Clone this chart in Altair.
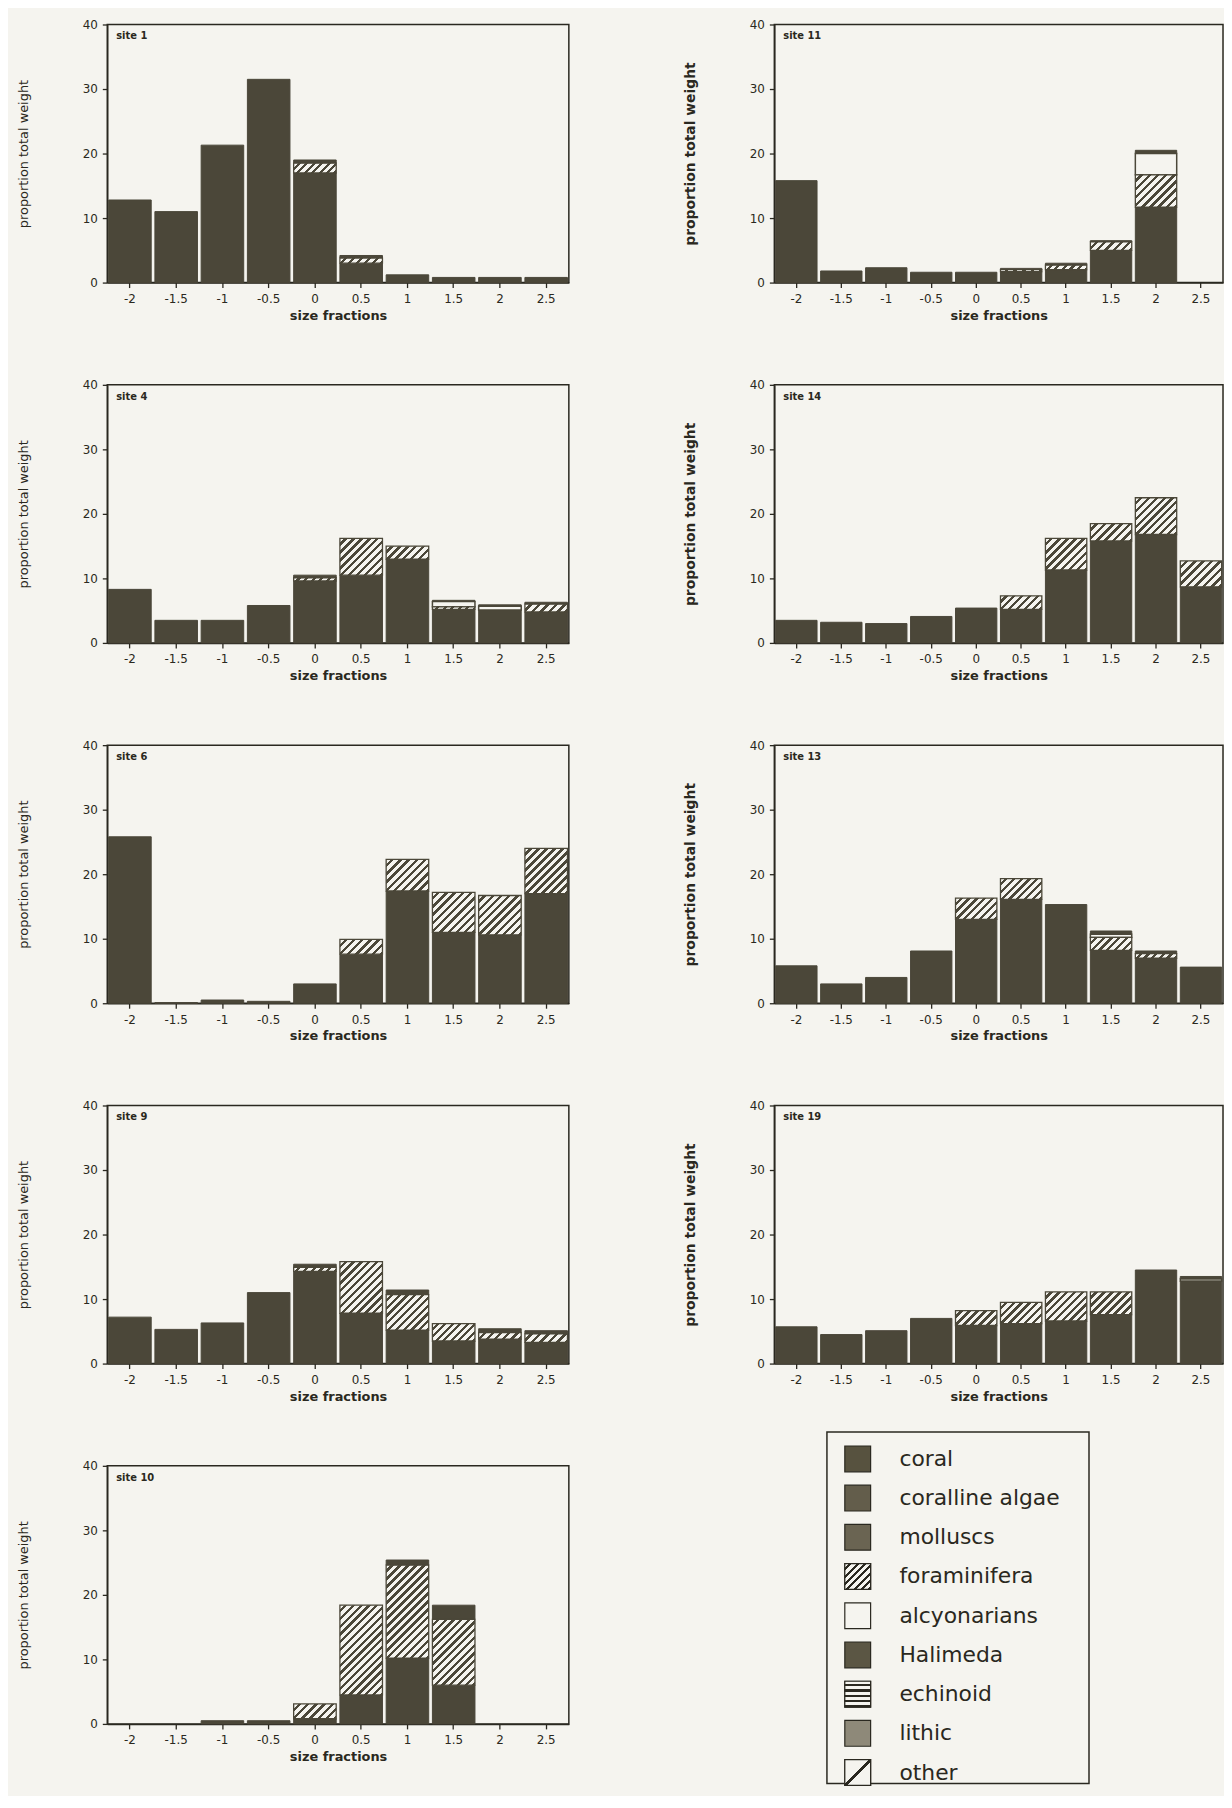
import altair as alt
import pandas as pd

# ---------------- data ----------------
SIZES = ["-2", "-1.5", "-1", "-0.5", "0", "0.5", "1", "1.5", "2", "2.5"]
COMPONENTS = ["coral", "foraminifera", "alcyonarians", "Halimeda"]

s1_coral = [12.8, 11.0, 21.3, 31.5, 17.0, 3.0, 1.2, 0.8, 0.8, 0.8]
s1_foram = [0, 0, 0, 0, 1.5, 0.8, 0, 0, 0, 0]
s1_alcy = [0, 0, 0, 0, 0, 0, 0, 0, 0, 0]
s1_top = [0, 0, 0, 0, 0.5, 0.4, 0, 0, 0, 0]

s11_coral = [15.8, 1.8, 2.3, 1.6, 1.6, 1.7, 2.0, 5.0, 11.7, 0]
s11_foram = [0, 0, 0, 0, 0, 0.3, 0.7, 1.3, 5.0, 0]
s11_alcy = [0, 0, 0, 0, 0, 0, 0, 0, 3.3, 0]
s11_top = [0, 0, 0, 0, 0, 0.2, 0.3, 0.2, 0.5, 0]

s4_coral = [8.3, 3.5, 3.5, 5.8, 9.6, 10.5, 13.0, 5.2, 5.1, 4.8]
s4_foram = [0, 0, 0, 0, 0.5, 5.7, 2.0, 0.4, 0, 1.2]
s4_alcy = [0, 0, 0, 0, 0, 0, 0, 0.8, 0.6, 0]
s4_top = [0, 0, 0, 0, 0.4, 0, 0, 0.2, 0.2, 0.3]

s14_coral = [3.5, 3.2, 3.0, 4.1, 5.4, 5.2, 11.3, 15.8, 16.8, 8.7]
s14_foram = [0, 0, 0, 0, 0, 2.1, 4.9, 2.7, 5.7, 4.0]
s14_alcy = [0, 0, 0, 0, 0, 0, 0, 0, 0, 0]
s14_top = [0, 0, 0, 0, 0, 0, 0, 0, 0, 0]

s6_coral = [25.8, 0.1, 0.5, 0.3, 3.0, 7.6, 17.4, 11.0, 10.6, 17.0]
s6_foram = [0, 0, 0, 0, 0, 2.3, 4.9, 6.2, 6.1, 7.0]
s6_alcy = [0, 0, 0, 0, 0, 0, 0, 0, 0, 0]
s6_top = [0, 0, 0, 0, 0, 0, 0, 0, 0, 0]

s13_coral = [5.8, 3.0, 4.0, 8.1, 13.0, 16.1, 15.3, 8.2, 7.0, 5.6]
s13_foram = [0, 0, 0, 0, 3.3, 3.2, 0, 2.0, 0.7, 0]
s13_alcy = [0, 0, 0, 0, 0, 0, 0, 0.5, 0, 0]
s13_top = [0, 0, 0, 0, 0, 0, 0, 0.5, 0.4, 0]

s9_coral = [7.2, 5.3, 6.3, 11.0, 14.3, 7.8, 5.2, 3.5, 3.8, 3.3]
s9_foram = [0, 0, 0, 0, 0.6, 8.0, 5.5, 2.7, 1.0, 1.3]
s9_alcy = [0, 0, 0, 0, 0, 0, 0, 0, 0, 0]
s9_top = [0, 0, 0, 0, 0.5, 0, 0.7, 0, 0.6, 0.5]

s19_coral = [5.7, 4.5, 5.1, 7.0, 5.9, 6.2, 6.6, 7.6, 14.5, 12.8]
s19_foram = [0, 0, 0, 0, 2.3, 3.3, 4.5, 3.5, 0, 0]
s19_alcy = [0, 0, 0, 0, 0, 0, 0, 0, 0, 0.3]
s19_top = [0, 0, 0, 0, 0, 0, 0, 0, 0, 0.4]

s10_coral = [0, 0, 0.5, 0.5, 0.8, 4.5, 10.2, 6.0, 0, 0]
s10_foram = [0, 0, 0, 0, 2.3, 13.9, 14.4, 10.2, 0, 0]
s10_alcy = [0, 0, 0, 0, 0, 0, 0, 0, 0, 0]
s10_top = [0, 0, 0, 0, 0, 0, 0.8, 2.2, 0, 0]

SITES = {
    "site 1": (s1_coral, s1_foram, s1_alcy, s1_top),
    "site 11": (s11_coral, s11_foram, s11_alcy, s11_top),
    "site 4": (s4_coral, s4_foram, s4_alcy, s4_top),
    "site 14": (s14_coral, s14_foram, s14_alcy, s14_top),
    "site 6": (s6_coral, s6_foram, s6_alcy, s6_top),
    "site 13": (s13_coral, s13_foram, s13_alcy, s13_top),
    "site 9": (s9_coral, s9_foram, s9_alcy, s9_top),
    "site 19": (s19_coral, s19_foram, s19_alcy, s19_top),
    "site 10": (s10_coral, s10_foram, s10_alcy, s10_top),
}
LEFT_SITES = ["site 1", "site 4", "site 6", "site 9", "site 10"]
RIGHT_SITES = ["site 11", "site 14", "site 13", "site 19"]

LEGEND_CATS = ["coral", "coralline algae", "molluscs", "foraminifera", "alcyonarians",
               "Halimeda", "echinoid", "lithic", "other"]

# ---------------- styling ----------------
FONT = "DejaVu Sans"
INK = "#2a2820"
DARK = "#4b4739"
PAPER = "#f5f4ef"
LEGEND_FILLS = ["#57523f", "#635d4b", "#6a6452", PAPER, PAPER, "#5b5644", PAPER, "#8e8979", PAPER]

PLOT_H = 260
Y_MAX = 40
P_INNER = 0.08
P_OUTER = 0.03
LEFT_W = 465
RIGHT_W = 452

rows = []
for site, comps in SITES.items():
    for ci, (name, vals) in enumerate(zip(COMPONENTS, comps)):
        for size, v in zip(SIZES, vals):
            rows.append({"site": site, "size": size, "cat": name, "order": ci, "value": v})
df = pd.DataFrame(rows)


def stripes(W, H, period=8.0, dark_frac=0.42, color_a=PAPER, color_b=DARK):
    """diagonal '/' hatch of roughly 45 degrees for a box of W x H pixels"""
    r = H / W
    k = (1 + r) / (1 + r * r)
    n = max(1, int(round((W + H) / period)))
    stops = []
    for i in range(n):
        a = i / n
        b = (i + 1 - dark_frac) / n
        c = (i + 1) / n
        stops += [(a, color_a), (b, color_a), (b, color_b), (c, color_b)]
    return alt.LinearGradient(
        gradient="linear", x1=0, y1=0, x2=round(k, 5), y2=round(k * r, 5),
        stops=[alt.GradientStop(offset=round(o, 5), color=col) for o, col in stops])


def hlines(n=5, dark_frac=0.4):
    stops = []
    for i in range(n):
        a = i / n
        b = (i + 1 - dark_frac) / n
        c = (i + 1) / n
        stops += [(a, PAPER), (b, PAPER), (b, INK), (c, INK)]
    return alt.LinearGradient(gradient="linear", x1=0, y1=0, x2=0, y2=1,
                              stops=[alt.GradientStop(offset=round(o, 5), color=col) for o, col in stops])


def one_diag():
    pts = [(0, PAPER), (0.46, PAPER), (0.46, INK), (0.54, INK), (0.54, PAPER), (1, PAPER)]
    return alt.LinearGradient(gradient="linear", x1=0, y1=0, x2=1, y2=1,
                              stops=[alt.GradientStop(offset=o, color=c) for o, c in pts])


def panel(site, width, right_col):
    step = width / (len(SIZES) - P_INNER + 2 * P_OUTER)
    bw = step * (1 - P_INNER)
    base = (alt.Chart(df)
            .transform_filter(alt.datum.site == site)
            .transform_stack(stack="value", groupby=["size"], as_=["y0", "y1"],
                             sort=[alt.SortField(field="order", order="ascending")]))
    x = alt.X("size:N", sort=SIZES,
              scale=alt.Scale(domain=SIZES, paddingInner=P_INNER, paddingOuter=P_OUTER),
              axis=alt.Axis(title="size fractions", labelAngle=0))
    yaxis = alt.Axis(title="proportion total weight", values=[0, 10, 20, 30, 40],
                     titleFontSize=14 if right_col else 13,
                     titleFontWeight="bold" if right_col else "normal")
    y = alt.Y("y0:Q", scale=alt.Scale(domain=[0, Y_MAX], nice=False), axis=yaxis)
    y2 = alt.Y2("y1:Q")

    dark = (base.transform_filter("(datum.cat == 'coral' || datum.cat == 'Halimeda') && datum.value > 0")
            .mark_bar(color=DARK, stroke=DARK, strokeWidth=1)
            .encode(x=x, y=y, y2=y2))
    white = (base.transform_filter("datum.cat == 'alcyonarians' && datum.value > 0")
             .mark_bar(color=PAPER, stroke=DARK, strokeWidth=1.5)
             .encode(x=x, y=y, y2=y2))
    layers = [dark, white]
    for size, v in zip(SIZES, SITES[site][1]):
        if v > 0:
            g = stripes(bw, v * PLOT_H / Y_MAX)
            layers.append(
                base.transform_filter(f"datum.cat == 'foraminifera' && datum.size == '{size}'")
                .mark_bar(color=g, stroke=DARK, strokeWidth=1.3)
                .encode(x=x, y=y, y2=y2))
    label = (alt.Chart(pd.DataFrame({"t": [site]}))
             .mark_text(align="left", baseline="top", fontSize=10, font=FONT,
                        fontWeight="bold", color=INK)
             .encode(x=alt.value(9), y=alt.value(7), text="t:N"))
    return alt.layer(*layers, label).properties(width=width, height=PLOT_H)


# ---------------- legend ----------------
leg_df = pd.DataFrame({"cat": LEGEND_CATS})
ly = alt.Y("cat:N", sort=LEGEND_CATS,
           scale=alt.Scale(domain=LEGEND_CATS, range=[27, 343], padding=0), axis=None)
leg_base = alt.Chart(leg_df)
sq = leg_base.mark_square(size=676, stroke=INK, strokeWidth=1.2, opacity=1).encode(
    x=alt.value(31), y=ly,
    fill=alt.Fill("cat:N", scale=alt.Scale(domain=LEGEND_CATS, range=LEGEND_FILLS), legend=None))
sq_foram = leg_base.transform_filter("datum.cat == 'foraminifera'").mark_square(
    size=676, color=stripes(26, 26, period=7.0, color_b=INK), stroke=INK, strokeWidth=1.2, opacity=1
).encode(x=alt.value(31), y=ly)
sq_echi = leg_base.transform_filter("datum.cat == 'echinoid'").mark_square(
    size=676, color=hlines(), stroke=INK, strokeWidth=1.2, opacity=1
).encode(x=alt.value(31), y=ly)
sq_other = leg_base.transform_filter("datum.cat == 'other'").mark_square(
    size=676, color=one_diag(), stroke=INK, strokeWidth=1.2, opacity=1
).encode(x=alt.value(31), y=ly)
txt = leg_base.mark_text(align="left", baseline="middle", fontSize=22, font=FONT, color=INK).encode(
    x=alt.value(73), y=ly, text="cat:N")
legend = alt.layer(sq, sq_foram, sq_echi, sq_other, txt).properties(width=264, height=354)

spacer = (alt.Chart(pd.DataFrame({"s": [0]}))
          .mark_point(opacity=0)
          .encode(x=alt.value(0), y=alt.value(0))
          .properties(width=51, height=10, view=alt.ViewBackground(stroke="transparent")))

left_col = alt.vconcat(*[panel(s, LEFT_W, False) for s in LEFT_SITES], spacing=55)
right_panels = alt.vconcat(*[panel(s, RIGHT_W, True) for s in RIGHT_SITES], spacing=55)
legend_row = alt.hconcat(spacer, legend, spacing=0)
right_col = alt.vconcat(right_panels, legend_row, spacing=24)

chart = (alt.hconcat(left_col, right_col, spacing=113)
         .properties(padding={"left": 8, "top": 3, "right": 0, "bottom": 0}, background=PAPER)
         .configure_view(stroke=INK, strokeWidth=1.5)
         .configure_axis(domainColor=INK, domainWidth=1.5, tickColor=INK, tickWidth=1.3, tickSize=5,
                         labelColor=INK, titleColor=INK, labelFont=FONT, titleFont=FONT,
                         labelFontSize=12, grid=False)
         .configure_axisX(labelPadding=6, titlePadding=5, titleFontSize=13, titleFontWeight="bold")
         .configure_axisY(labelPadding=5, titlePadding=52))

chart.save("out.html", embed_options={"renderer": "svg", "actions": False})
